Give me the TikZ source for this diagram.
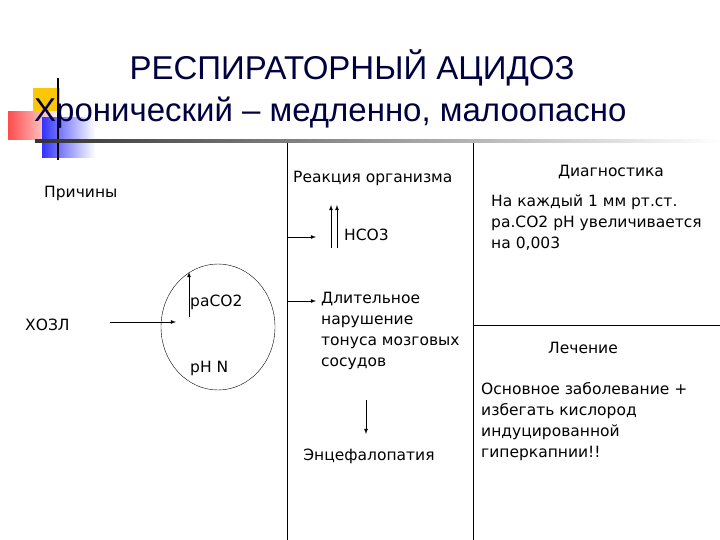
\documentclass[tikz,border=0pt]{standalone}
\usepackage{fontspec}
\setmainfont{DejaVu Sans}
\newfontfamily\titlefont{Liberation Sans}
\begin{document}
\begin{tikzpicture}[x=1pt,y=-1pt,
  txt/.style={font=\fontsize{15.5}{21}\selectfont,inner sep=0pt,align=left},
  ttl/.style={font=\titlefont\fontsize{33}{38}\selectfont,text=blue!25!black,inner sep=0pt},
  arr/.style={-latex,line width=0.8pt}]
\useasboundingbox (0,0) rectangle (720,540);
% decoration
\fill[yellow!60!orange] (33,88) rectangle (60,118);
\shade[left color=red!70,right color=white] (8,112) rectangle (62,140);
\shade[left color=blue!80,right color=white] (42,118) rectangle (95,158);
\draw[line width=1.2pt] (58,78) -- (58,160);
\shade[left color=black!80,right color=white] (35,140) rectangle (720,142.5);
% title
\node[ttl,anchor=base] (t1) at (352,80) {РЕСПИРАТОРНЫЙ АЦИДОЗ};
\node[ttl,anchor=base west] (t2) at (34,122) {Хронический – медленно, малоопасно};
% grid
\draw (287,143) -- (287,540);
\draw (473,143) -- (473,540);
\draw (473,325) -- (720,325);
% left
\node[txt,anchor=west] (pr) at (44,193) {Причины};
\node[txt,anchor=west] (hozl) at (25,325) {ХОЗЛ};
\draw (218,327) ellipse (57 and 63);
\node[txt,anchor=west] (paco) at (190,302) {раСО2};
\node[txt,anchor=west] (ph) at (190,368) {pH N};
\coordinate (a1) at (110,322);
\coordinate (a2) at (176,322);
\draw[arr] (a1) -- (a2);
\coordinate (u1) at (189,317);
\coordinate (u2) at (189,272);
\draw[arr] (u1) -- (u2);
% middle
\node[txt,anchor=west] (re) at (293,178) {Реакция организма};
\node[txt,anchor=west] (hco) at (344,235) {НСО3};
\coordinate (b1) at (288,237); \coordinate (b2) at (316,237);
\draw[arr] (b1) -- (b2);
\coordinate (c1) at (331,248); \coordinate (c2) at (331,205);
\coordinate (c3) at (337,248); \coordinate (c4) at (337,205);
\draw[arr] (c1) -- (c2); \draw[arr] (c3) -- (c4);
\coordinate (d1) at (288,301); \coordinate (d2) at (316,301);
\draw[arr] (d1) -- (d2);
\node[txt,anchor=north west] (dl) at (321,292) {Длительное\\нарушение\\тонуса мозговых\\сосудов};
\coordinate (e1) at (366,400); \coordinate (e2) at (366,434);
\draw[arr] (e1) -- (e2);
\node[txt] (en) at (369,456) {Энцефалопатия};
% right
\node[txt] (di) at (611,172) {Диагностика};
\node[txt,anchor=north west] (dt) at (491,195) {На каждый 1 мм рт.ст.\\ра.СО2 рН увеличивается\\на 0,003};
\node[txt] (le) at (583,348) {Лечение};
\node[txt,anchor=north west] (lt) at (481,382) {Основное заболевание +\\избегать кислород\\индуцированной\\гиперкапнии!!};
\end{tikzpicture}
\end{document}
